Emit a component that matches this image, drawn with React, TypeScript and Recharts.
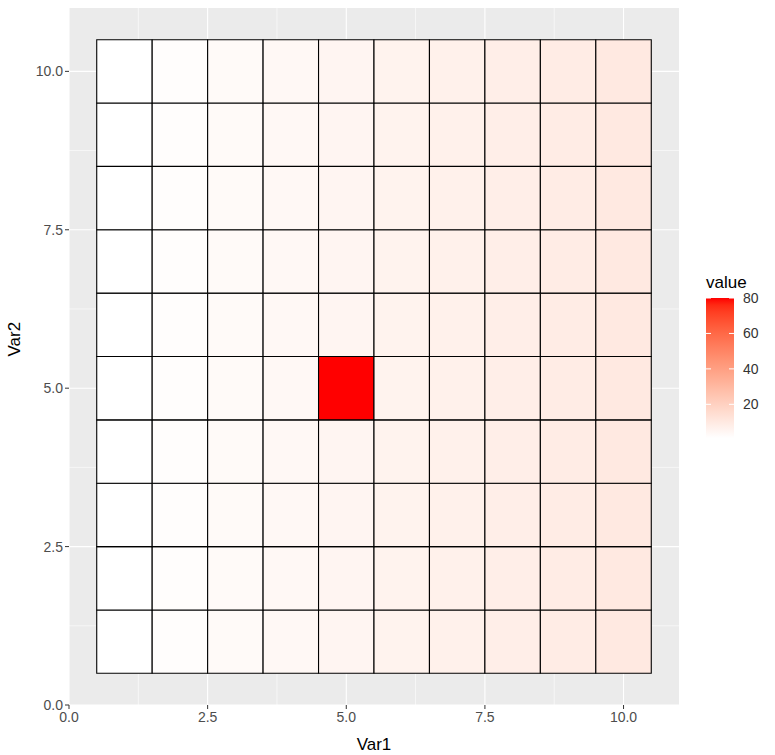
import React from "react";
import {
  ComposedChart,
  Scatter,
  XAxis,
  YAxis,
  CartesianGrid,
  ReferenceArea,
  ReferenceLine,
} from "recharts";

const var1 = [1, 2, 3, 4, 5, 6, 7, 8, 9, 10];
const var2 = [1, 2, 3, 4, 5, 6, 7, 8, 9, 10];
// one row per Var2 (1 at bottom), one column per Var1
const values = [
  [1, 2, 3, 4, 5, 6, 7, 8, 9, 10],
  [1, 2, 3, 4, 5, 6, 7, 8, 9, 10],
  [1, 2, 3, 4, 5, 6, 7, 8, 9, 10],
  [1, 2, 3, 4, 5, 6, 7, 8, 9, 10],
  [1, 2, 3, 4, 80, 6, 7, 8, 9, 10],
  [1, 2, 3, 4, 5, 6, 7, 8, 9, 10],
  [1, 2, 3, 4, 5, 6, 7, 8, 9, 10],
  [1, 2, 3, 4, 5, 6, 7, 8, 9, 10],
  [1, 2, 3, 4, 5, 6, 7, 8, 9, 10],
  [1, 2, 3, 4, 5, 6, 7, 8, 9, 10],
];
const axisTicks = [0, 2.5, 5, 7.5, 10];
const minorTicks = [1.25, 3.75, 6.25, 8.75];
const legendTicks = [20, 40, 60, 80];

const FONT = "'Liberation Sans', Arial, sans-serif";
const W = 775;
const H = 755;

// white -> red in CIELAB, like scale_fill_gradient
const toLin = (c: number) => {
  c /= 255;
  return c <= 0.04045 ? c / 12.92 : Math.pow((c + 0.055) / 1.055, 2.4);
};
const fromLin = (c: number) => {
  const v = c <= 0.0031308 ? 12.92 * c : 1.055 * Math.pow(c, 1 / 2.4) - 0.055;
  return Math.round(Math.min(1, Math.max(0, v)) * 255);
};
const f = (t: number) => (t > 0.008856 ? Math.cbrt(t) : 7.787 * t + 16 / 116);
const fi = (t: number) => (t * t * t > 0.008856 ? t * t * t : (t - 16 / 116) / 7.787);
function toLab([r, g, b]: number[]) {
  const R = toLin(r), G = toLin(g), B = toLin(b);
  const X = (0.4124 * R + 0.3576 * G + 0.1805 * B) / 0.95047;
  const Y = 0.2126 * R + 0.7152 * G + 0.0722 * B;
  const Z = (0.0193 * R + 0.1192 * G + 0.9505 * B) / 1.08883;
  return [116 * f(Y) - 16, 500 * (f(X) - f(Y)), 200 * (f(Y) - f(Z))];
}
function fromLab([L, a, bb]: number[]) {
  const fy = (L + 16) / 116;
  const X = fi(fy + a / 500) * 0.95047;
  const Y = fi(fy);
  const Z = fi(fy - bb / 200) * 1.08883;
  const r = 3.2406 * X - 1.5372 * Y - 0.4986 * Z;
  const g = -0.9689 * X + 1.8758 * Y + 0.0415 * Z;
  const b = 0.0557 * X - 0.204 * Y + 1.057 * Z;
  return `rgb(${fromLin(r)},${fromLin(g)},${fromLin(b)})`;
}
const LOW = toLab([255, 255, 255]);
const HIGH = toLab([255, 0, 0]);
const allValues = values.flat();
const vMin = Math.min(...allValues);
const vMax = Math.max(...allValues);
function fillFor(v: number) {
  const t = (v - vMin) / (vMax - vMin);
  return fromLab(LOW.map((l, i) => l + (HIGH[i] - l) * t));
}

const tiles = var2.flatMap((y, i) =>
  var1.map((x, j) => ({ x, y, value: values[i][j] }))
);

function Legend() {
  const top = 298;
  const bottom = 438;
  const left = 706;
  const width = 28;
  const pos = (v: number) => bottom - ((v - vMin) / (vMax - vMin)) * (bottom - top);
  const stops = Array.from({ length: 21 }, (_, k) => k / 20);
  return (
    <svg width={W} height={H} style={{ position: "absolute", left: 0, top: 0, pointerEvents: "none" }}>
      <defs>
        <linearGradient id="lg" x1="0" y1="1" x2="0" y2="0">
          {stops.map((s) => (
            <stop key={s} offset={s} stopColor={fillFor(vMin + s * (vMax - vMin))} />
          ))}
        </linearGradient>
      </defs>
      <text x={706} y={288} fontSize={17} fontFamily={FONT} fill="#000">
        value
      </text>
      <rect x={left} y={top} width={width} height={bottom - top} fill="url(#lg)" />
      {legendTicks.map((t) => (
        <g key={t}>
          <line x1={left} x2={left + 5} y1={pos(t)} y2={pos(t)} stroke="#fff" strokeWidth={1} />
          <line x1={left + width - 5} x2={left + width} y1={pos(t)} y2={pos(t)} stroke="#fff" strokeWidth={1} />
          <text x={743} y={pos(t) + 5} fontSize={14} fontFamily={FONT} fill="#333">
            {t}
          </text>
        </g>
      ))}
    </svg>
  );
}

export default function App() {
  return (
    <div style={{ position: "absolute", left: 0, top: 0, width: W, height: H, background: "#fff" }}>
      <ComposedChart width={W} height={H} margin={{ top: 8, right: 96, bottom: 0, left: 0 }}>
        <CartesianGrid fill="#EBEBEB" horizontal={false} vertical={false} />
        <XAxis
          type="number"
          dataKey="x"
          domain={[0, 11]}
          ticks={axisTicks}
          allowDataOverflow
          height={50}
          axisLine={false}
          tickLine={{ stroke: "#333", strokeWidth: 1 }}
          tickSize={4}
          tickMargin={3}
          tickFormatter={(v: number) => v.toFixed(1)}
          tick={{ fill: "#4D4D4D", fontSize: 14, fontFamily: FONT }}
          label={{ value: "Var1", position: "insideBottom", offset: 5, fill: "#000", fontSize: 17, fontFamily: FONT }}
        />
        <YAxis
          type="number"
          dataKey="y"
          domain={[0, 11]}
          ticks={axisTicks}
          allowDataOverflow
          width={69}
          axisLine={false}
          tickLine={{ stroke: "#333", strokeWidth: 1 }}
          tickSize={4}
          tickMargin={2}
          tickFormatter={(v: number) => v.toFixed(1)}
          tick={{ fill: "#4D4D4D", fontSize: 14, fontFamily: FONT }}
          label={{ value: "Var2", angle: -90, position: "insideLeft", offset: 14, fill: "#000", fontSize: 17, fontFamily: FONT }}
        />
        {minorTicks.map((t) => (
          <ReferenceLine key={"mx" + t} x={t} stroke="#fff" strokeWidth={0.6} zIndex={-50} />
        ))}
        {minorTicks.map((t) => (
          <ReferenceLine key={"my" + t} y={t} stroke="#fff" strokeWidth={0.6} zIndex={-50} />
        ))}
        {axisTicks.map((t) => (
          <ReferenceLine key={"x" + t} x={t} stroke="#fff" strokeWidth={1.1} zIndex={-50} />
        ))}
        {axisTicks.map((t) => (
          <ReferenceLine key={"y" + t} y={t} stroke="#fff" strokeWidth={1.1} zIndex={-50} />
        ))}
        {tiles.map((d) => (
          <ReferenceArea
            key={`${d.x}-${d.y}`}
            x1={d.x - 0.5}
            x2={d.x + 0.5}
            y1={d.y - 0.5}
            y2={d.y + 0.5}
            fill={fillFor(d.value)}
            fillOpacity={1}
            stroke="#000"
            strokeWidth={1.1}
            zIndex={300}
          />
        ))}
        <Scatter data={tiles} isAnimationActive={false} shape={() => <g />} />
      </ComposedChart>
      <Legend />
    </div>
  );
}
